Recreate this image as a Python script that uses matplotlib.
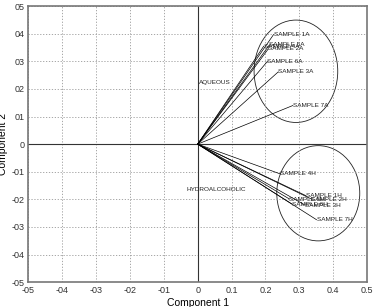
import matplotlib
matplotlib.use('Agg')
import matplotlib.pyplot as plt
from matplotlib.patches import Ellipse

# loadings
aq_names = ['SAMPLE 1A', 'SAMPLE 5A', 'SAMPLE 4A', 'SAMPLE 2A', 'SAMPLE 6A', 'SAMPLE 3A', 'SAMPLE 7A']
aq_x = [0.224, 0.212, 0.195, 0.209, 0.206, 0.238, 0.281]
aq_y = [0.397, 0.360, 0.355, 0.346, 0.300, 0.262, 0.140]

hy_names = ['SAMPLE 4H', 'SAMPLE 1H', 'SAMPLE 2H', 'SAMPLE 5H', 'SAMPLE 6H', 'SAMPLE 3H', 'SAMPLE 7H']
hy_x = [0.244, 0.320, 0.336, 0.271, 0.278, 0.317, 0.351]
hy_y = [-0.108, -0.187, -0.199, -0.199, -0.217, -0.221, -0.274]

ticks = [-0.5, -0.4, -0.3, -0.2, -0.1, 0, 0.1, 0.2, 0.3, 0.4, 0.5]
xlabels = ['-05', '-04', '-03', '-02', '-01', '0', '0.1', '0.2', '0.3', '0.4', '0.5']
ylabels = ['-05', '-04', '-03', '-02', '-01', '0', '01', '02', '03', '04', '05']

plt.rcParams['font.family'] = ['Liberation Sans', 'DejaVu Sans']

fig = plt.figure(figsize=(3.78, 3.07), dpi=100)
ax = fig.add_axes([0.075, 0.081, 0.896, 0.899])

ax.set_xlim(-0.5, 0.5)
ax.set_ylim(-0.5, 0.5)
ax.set_xticks(ticks)
ax.set_yticks(ticks)
ax.set_xticklabels(xlabels)
ax.set_yticklabels(ylabels)
ax.tick_params(length=0, labelsize=6.5, colors='#333333', pad=3)
ax.grid(True, linestyle=(0, (1.5, 2)), color='#999999', linewidth=0.6)
for s in ax.spines.values():
    s.set_color('#777777')
    s.set_linewidth(1.2)

ax.axhline(0, color='#333333', lw=0.8)
ax.axvline(0, color='#333333', lw=0.8)

fs = 4.6
for n, x, y in zip(aq_names, aq_x, aq_y):
    ax.plot([0, x], [0, y], color='black', lw=0.5)
    ax.text(x, y, n, fontsize=fs, va='center', ha='left', color='#222222')
for n, x, y in zip(hy_names, hy_x, hy_y):
    ax.plot([0, x], [0, y], color='black', lw=0.5)
    ax.text(x, y, n, fontsize=fs, va='center', ha='left', color='#222222')

ax.add_patch(Ellipse((0.290, 0.264), 0.247, 0.371, fill=False, ec='#222222', lw=0.6))
ax.add_patch(Ellipse((0.356, -0.178), 0.245, 0.345, fill=False, ec='#222222', lw=0.6))

ax.text(0.003, 0.222, 'AQUEOUS', fontsize=fs, va='center', ha='left', color='#222222')
ax.text(-0.033, -0.163, 'HYDROALCOHOLIC', fontsize=fs, va='center', ha='left', color='#222222')

ax.set_xlabel('Component 1', fontsize=7.5, labelpad=2)
ax.set_ylabel('Component 2', fontsize=7.5, labelpad=2)

fig.savefig('out.png', dpi=100)
